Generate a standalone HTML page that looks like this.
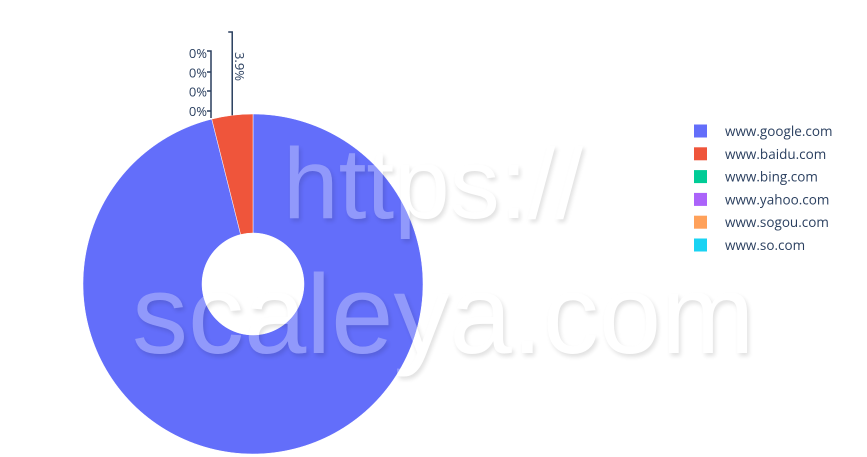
<!DOCTYPE html>
<html><head><meta charset="utf-8"><style>
html,body{margin:0;padding:0;background:#fff;}
svg{display:block;font-family:"Open Sans","Liberation Sans",sans-serif;}
</style></head><body>
<svg id="chart" width="867" height="457">
<g id="slices"></g>
<g id="labels"></g>
<g id="legend"></g>
<g style="font-family:'Liberation Sans',sans-serif;fill:#fff;" opacity="0.3">
<text x="283" y="218" font-size="100" style="filter:drop-shadow(2px 3px 2px rgba(0,0,0,0.4))">https://</text>
<text x="132" y="353" font-size="112" style="filter:drop-shadow(2px 3px 2px rgba(0,0,0,0.4))">scaleya.com</text>
</g>
</svg>
<script>
const categories=["www.google.com","www.baidu.com","www.bing.com","www.yahoo.com","www.sogou.com","www.so.com"];
const values=[96.1,3.9,0,0,0,0];
const labelsText=["96.1%","3.9%","0%","0%","0%","0%"];
const colors=["#636efa","#EF553B","#00cc96","#ab63fa","#FFA15A","#19d3f3"];
const NS="http://www.w3.org/2000/svg";
const cx=253,cy=284,R=170,r=51;
function mk(t,a,p){const e=document.createElementNS(NS,t);for(const k in a)e.setAttribute(k,a[k]);p.appendChild(e);return e;}
const total=values.reduce((a,b)=>a+b,0);
function pt(ang,rad){return [cx+rad*Math.sin(ang),cy-rad*Math.cos(ang)];}
let a0=0;
const slicesG=document.getElementById('slices'),labG=document.getElementById('labels');
let zeroIdx=0;
values.forEach((v,i)=>{
  const a1=a0+v/total*2*Math.PI;
  if(v>0){
    const [x0,y0]=pt(a0,R),[x1,y1]=pt(a1,R),[x2,y2]=pt(a1,r),[x3,y3]=pt(a0,r);
    const lg=(a1-a0)>Math.PI?1:0;
    const p=mk('path',{d:`M${x0},${y0}A${R},${R} 0 ${lg} 1 ${x1},${y1}L${x2},${y2}A${r},${r} 0 ${lg} 0 ${x3},${y3}Z`,fill:colors[i],stroke:'#fff','stroke-width':0.5},slicesG);
    
    
  }
  a0=a1;
});
a0=0;
values.forEach((v,i)=>{
  const a1=a0+v/total*2*Math.PI;
  const mid=(a0+a1)/2;
  if(i===0){a0=a1;return;}
  if(v>0){
    const [px,py]=pt(mid,R);
    const lx=px, top=32;
    const l=mk('path',{d:`M${lx},${py}V${top}H${lx-4}`,fill:'none',stroke:'#2a3f5f','stroke-width':1.5},labG);
    
    
    const t=mk('text',{x:0,y:0,'font-size':13,fill:'#2a3f5f',transform:`translate(${lx+3},${top+20}) rotate(90)`},labG);
    t.textContent=labelsText[i];
    
    
  } else {
    const ly=53+zeroIdx*19.3;
    const t=mk('text',{x:207,y:ly+5,'font-size':13,fill:'#2a3f5f','text-anchor':'end'},labG);
    t.textContent=labelsText[i];
    
    
    zeroIdx++;
  }
  a0=a1;
});
const zl=mk('path',{d:`M207,51H211V118M207,72H211M207,91H211M207,111H211`,fill:'none',stroke:'#2a3f5f','stroke-width':1.5},labG);


const legG=document.getElementById('legend');
categories.forEach((c,i)=>{
  const y=131+i*22.8;
  const g=mk('g',{},legG);
  
  
  mk('rect',{x:694,y:y-6.5,width:13,height:13,fill:colors[i]},g);
  const t=mk('text',{x:725,y:y+5,'font-size':13.5,fill:'#2a3f5f'},g);
  t.textContent=c;
});
</script>
</body></html>
